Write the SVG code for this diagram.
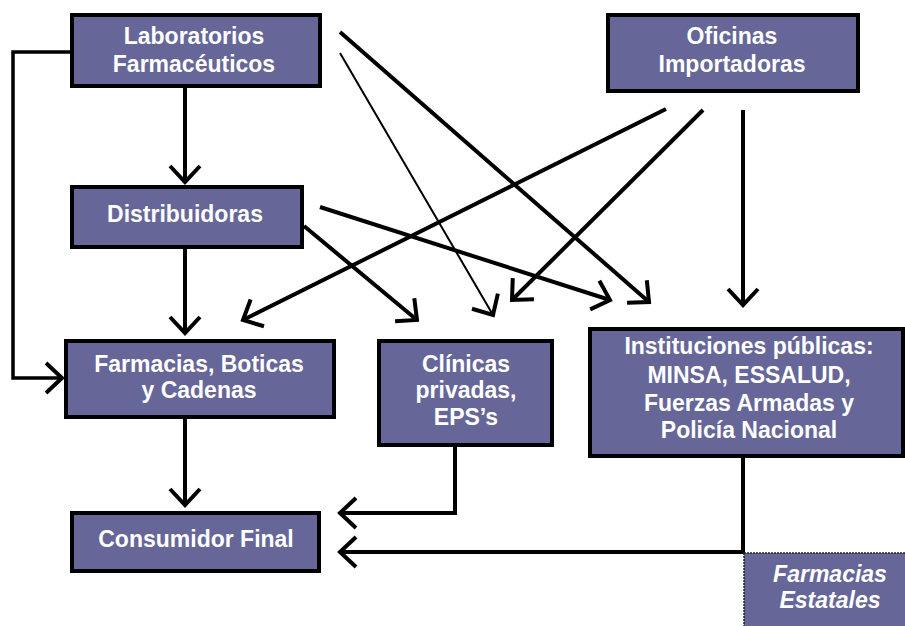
<svg xmlns="http://www.w3.org/2000/svg" width="905" height="626" viewBox="0 0 905 626">
<defs>
<style>
.box{fill:#666699;stroke:#000;stroke-width:4}
.est{fill:#666699;stroke:#222;stroke-width:1.5;stroke-dasharray:2 1}
.t{fill:#fff;font-family:"Liberation Sans",Arial,sans-serif;font-weight:bold;font-size:23px;text-anchor:middle}
.ti{font-style:italic}
.c{fill:none;stroke:#000;stroke-width:4}
.thin{stroke-width:2}
</style>
<marker id="ah" markerUnits="userSpaceOnUse" markerWidth="40" markerHeight="40" viewBox="-20 -20 40 40" refX="0" refY="0" orient="auto">
<path d="M-16,-15 L0,0 L-16,15" fill="none" stroke="#000" stroke-width="4"/>
</marker>
</defs>
<rect width="905" height="626" fill="#fff"/>
<g id="connectors">
<line class="c" x1="185" y1="88" x2="185" y2="182" marker-end="url(#ah)"/>
<polyline class="c" style="stroke-width:3.5" points="70,52 13,52 13,378 62,378" marker-end="url(#ah)"/>
<line class="c" x1="185" y1="249" x2="185" y2="333" marker-end="url(#ah)"/>
<line class="c" x1="185" y1="419" x2="185" y2="505" marker-end="url(#ah)"/>
<polyline class="c" points="455,447 455,513 340,513" marker-end="url(#ah)"/>
<polyline class="c" points="743,458 743,552 340,552" marker-end="url(#ah)"/>
<line class="c" x1="340" y1="32" x2="649" y2="302" marker-end="url(#ah)"/>
<line class="c thin" x1="340" y1="53" x2="493" y2="315" marker-end="url(#ah)"/>
<line class="c" x1="320" y1="207" x2="610" y2="300" marker-end="url(#ah)"/>
<line class="c" x1="304" y1="226" x2="417" y2="320" marker-end="url(#ah)"/>
<line class="c" x1="666" y1="109" x2="243" y2="320" marker-end="url(#ah)"/>
<line class="c" x1="703" y1="110" x2="512" y2="300" marker-end="url(#ah)"/>
<line class="c" x1="743" y1="110" x2="743" y2="305" marker-end="url(#ah)"/>
</g>
<g id="laboratorios">
<rect class="box" x="72" y="15" width="248" height="71"/>
<text class="t" x="194" y="44">Laboratorios</text>
<text class="t" x="194" y="72">Farmacéuticos</text>
</g>
<g id="oficinas">
<rect class="box" x="608" y="15" width="250" height="76"/>
<text class="t" x="732" y="44">Oficinas</text>
<text class="t" x="732" y="72">Importadoras</text>
</g>
<g id="distribuidoras">
<rect class="box" x="72" y="187" width="230" height="60"/>
<text class="t" x="185" y="222">Distribuidoras</text>
</g>
<g id="farmacias">
<rect class="box" x="66" y="341" width="268" height="76"/>
<text class="t" x="199" y="372">Farmacias, Boticas</text>
<text class="t" x="199" y="398">y Cadenas</text>
</g>
<g id="clinicas">
<rect class="box" x="379" y="341" width="173" height="104"/>
<text class="t" x="466" y="372">Clínicas</text>
<text class="t" x="466" y="398">privadas,</text>
<text class="t" x="466" y="425">EPS’s</text>
</g>
<g id="instituciones">
<rect class="box" x="590" y="329" width="313" height="127"/>
<text class="t" x="749" y="354">Instituciones públicas:</text>
<text class="t" x="749" y="383">MINSA, ESSALUD,</text>
<text class="t" x="749" y="411">Fuerzas Armadas y</text>
<text class="t" x="749" y="438">Policía Nacional</text>
</g>
<g id="consumidor">
<rect class="box" x="72" y="513" width="247" height="58"/>
<text class="t" x="196" y="547">Consumidor Final</text>
</g>
<g id="farmacias-estatales">
<rect class="est" x="744" y="553" width="170" height="80"/>
<text class="t ti" x="830" y="582">Farmacias</text>
<text class="t ti" x="830" y="608">Estatales</text>
</g>
</svg>
